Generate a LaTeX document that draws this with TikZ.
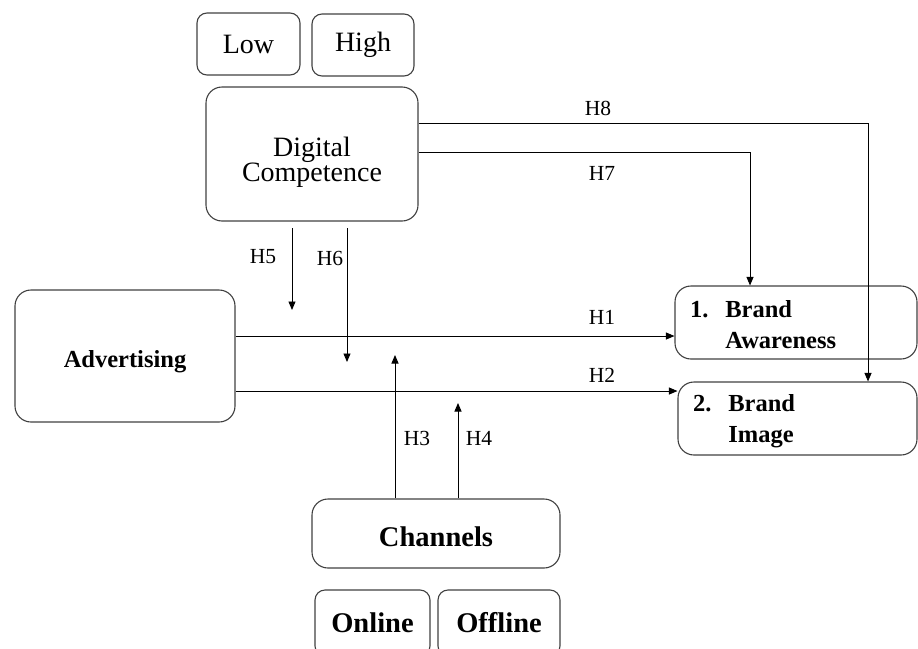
\documentclass[tikz,border=0pt]{standalone}
\usepackage{fontspec}
\setmainfont{Liberation Serif}
\usetikzlibrary{arrows.meta}
\newcommand\pushdn[2]{\raisebox{0pt}[\dimexpr\height+#1\relax][\depth]{#2}}
\begin{document}
\begin{tikzpicture}[x=1pt,y=-1pt,
  box/.style={draw=black!75, line width=1.1pt, rounded corners=16pt, inner sep=0pt, align=center},
  sbox/.style={box, rounded corners=10pt},
  conn/.style={line width=0.9pt, -{Triangle[length=8.5pt,width=7pt]}},
  hlab/.style={font=\fontsize{21.5}{22}\selectfont, inner sep=0pt},
  reg/.style={font=\fontsize{28}{26}\selectfont},
  bld/.style={font=\fontsize{24.5}{31}\selectfont\bfseries},
  bigbld/.style={font=\fontsize{28.5}{30}\selectfont\bfseries}]
\useasboundingbox (0,0) rectangle (918,648);
\clip (0,0) rectangle (918,648);
% boxes
\node[sbox, reg, minimum width=103pt, minimum height=62pt] (low) at (248.5,44) {Low};
\node[sbox, reg, minimum width=102pt, minimum height=62pt] (high) at (363,45) {High};
\node[box, reg, minimum width=212pt, minimum height=134pt] (dc) at (312,154)
  {\pushdn{19pt}{\begin{tabular}{@{}c@{}}Digital\\[-1pt]Competence\end{tabular}}};
\node[box, bld, minimum width=220pt, minimum height=132pt] (adv) at (125,356) {\pushdn{12pt}{Advertising}};
\node[box, bld, minimum width=242pt, minimum height=73pt, text width=212pt, inner xsep=15pt, align=left] (ba) at (796,322.5)
  {\pushdn{8pt}{\begin{tabular}{@{}l@{\hspace{17pt}}l@{}}1. & Brand\\ & Awareness\end{tabular}}};
\node[box, bld, minimum width=239pt, minimum height=73pt, text width=209pt, inner xsep=13pt, align=left] (bimg) at (797.5,418.5)
  {\pushdn{4pt}{\begin{tabular}{@{}l@{\hspace{17pt}}l@{}}2. & Brand\\ & Image\end{tabular}}};
\node[box, bigbld, minimum width=248pt, minimum height=69pt] (chan) at (436,533.5) {\pushdn{6pt}{Channels}};
\node[sbox, bigbld, minimum width=115pt, minimum height=66pt] (online) at (372.5,623) {Online};
\node[sbox, bigbld, minimum width=122pt, minimum height=66pt] (offline) at (499,623) {Offline};
% helper coordinates
\coordinate (h8a) at (868,123);
\coordinate (h7a) at (750,152);
\coordinate (h1y) at (0,336);
\coordinate (h2y) at (0,391);
\coordinate (h5s) at (292,228);
\coordinate (h5e) at (292,310);
\coordinate (h6s) at (347,228);
\coordinate (h6e) at (347,362);
\coordinate (h3e) at (395,355);
\coordinate (h4e) at (458,403);
% connectors
\draw[conn] (dc.east |- h8a) -| (bimg.north -| h8a);
\draw[conn] (dc.east |- h7a) -| (ba.north -| h7a);
\draw[conn] (adv.east |- h1y) -- (ba.west |- h1y);
\draw[conn] (adv.east |- h2y) -- (bimg.west |- h2y);
\draw[conn] (h5s) -- (h5e);
\draw[conn] (h6s) -- (h6e);
\draw[conn] (chan.north -| h3e) -- (h3e);
\draw[conn] (chan.north -| h4e) -- (h4e);
% labels
\node[hlab] (l8) at (598,108) {H8};
\node[hlab] (l7) at (602,173) {H7};
\node[hlab] (l1) at (602,317) {H1};
\node[hlab] (l2) at (602,375) {H2};
\node[hlab] (l5) at (263,257) {H5};
\node[hlab] (l6) at (330,258) {H6};
\node[hlab] (l3) at (417,438) {H3};
\node[hlab] (l4) at (479,438) {H4};
\end{tikzpicture}
\end{document}
